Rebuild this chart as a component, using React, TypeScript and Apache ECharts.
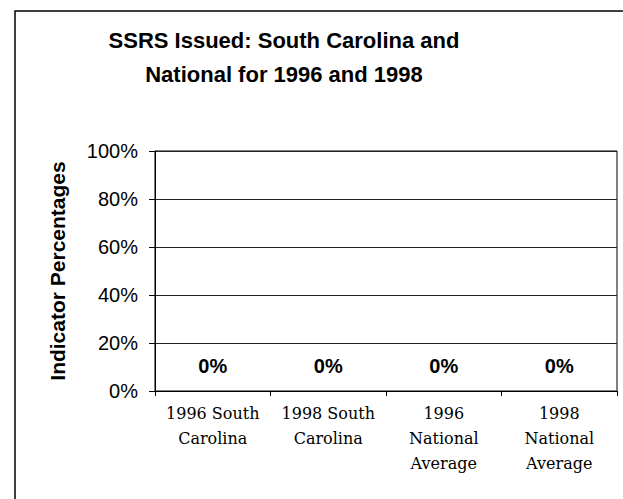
import React, { useEffect, useRef } from "react";
import * as echarts from "echarts";

const categories = [
  "1996 South\nCarolina",
  "1998 South\nCarolina",
  "1996\nNational\nAverage",
  "1998\nNational\nAverage",
];
const values = [0, 0, 0, 0];
const titleText = "SSRS Issued: South Carolina and\nNational for 1996 and 1998";
const yAxisName = "Indicator Percentages";

export default function App() {
  const ref = useRef<HTMLDivElement>(null);
  useEffect(() => {
    document.body.style.margin = "0";
    const chart = echarts.init(ref.current!, null, { renderer: "svg" });
    chart.setOption({
      animation: false,
      backgroundColor: "#ffffff",
      graphic: [
        {
          type: "rect",
          shape: { x: 15, y: 11, width: 660, height: 540 },
          style: { fill: "none", stroke: "#000", lineWidth: 1.5 },
          silent: true,
        },
        {
          type: "text",
          x: 284,
          y: 23,
          style: {
            text: titleText,
            fill: "#000",
            font: "bold 22px 'Liberation Sans', Arial, sans-serif",
            align: "center",
            verticalAlign: "top",
            lineHeight: 34,
          },
        },
      ],
      grid: {
        left: 155,
        right: 6,
        top: 151,
        bottom: 108,
        show: true,
        borderColor: "#000",
        borderWidth: 1,
      },
      xAxis: {
        type: "category",
        data: categories,
        axisLine: { lineStyle: { color: "#000", width: 1 } },
        axisTick: { show: true, length: 5, lineStyle: { color: "#000" } },
        axisLabel: {
          color: "#000",
          fontFamily: "'DejaVu Serif', serif",
          fontSize: 16,
          lineHeight: 25,
          margin: 10,
          interval: 0,
        },
      },
      yAxis: {
        type: "value",
        min: 0,
        max: 1,
        interval: 0.2,
        name: yAxisName,
        nameLocation: "middle",
        nameRotate: 90,
        nameGap: 87,
        nameTextStyle: {
          color: "#000",
          fontFamily: "'Liberation Sans', Arial, sans-serif",
          fontWeight: "bold",
          fontSize: 21,
        },
        axisLine: { show: true, lineStyle: { color: "#000", width: 1 } },
        axisTick: { show: true, length: 6, lineStyle: { color: "#000" } },
        splitLine: { show: true, lineStyle: { color: "#222", width: 1 } },
        axisLabel: {
          color: "#000",
          fontFamily: "'Liberation Sans', Arial, sans-serif",
          fontSize: 20,
          margin: 17,
          formatter: (v: number) => Math.round(v * 100) + "%",
        },
      },
      series: [
        {
          type: "bar",
          data: values,
          barWidth: "50%",
          itemStyle: { color: "#9999ff" },
          label: {
            show: true,
            position: "top",
            distance: 15,
            color: "#000",
            fontFamily: "'Liberation Sans', Arial, sans-serif",
            fontWeight: "bold",
            fontSize: 20,
            formatter: (p: any) => Math.round(p.value * 100) + "%",
          },
        },
      ],
    });
    return () => chart.dispose();
  }, []);
  return (
    <div
      ref={ref}
      style={{ position: "fixed", left: 0, top: 0, width: 623, height: 499 }}
    />
  );
}
